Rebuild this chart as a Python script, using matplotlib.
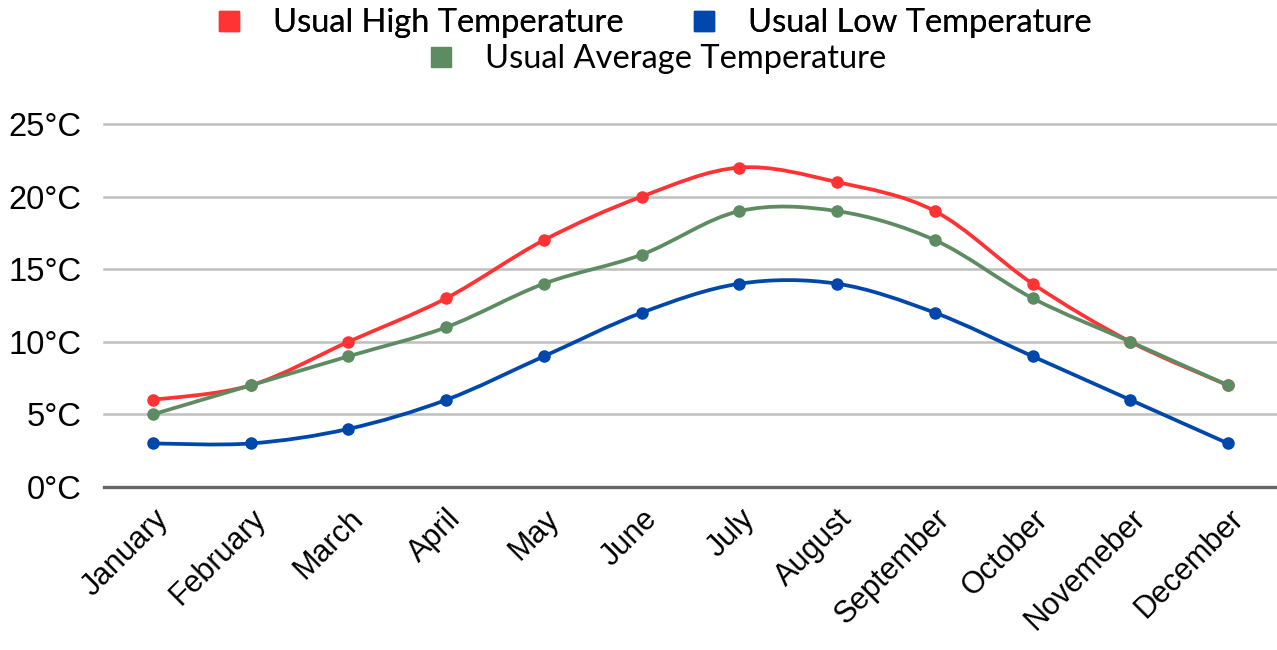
import matplotlib
matplotlib.use("Agg")
import matplotlib.pyplot as plt
from matplotlib.path import Path
from matplotlib.patches import PathPatch
from matplotlib.lines import Line2D
import numpy as np

months = ['January', 'February', 'March', 'April', 'May', 'June', 'July',
          'August', 'September', 'October', 'Novemeber', 'December']
high_temp = [6, 7, 10, 13, 17, 20, 22, 21, 19, 14, 10, 7]
low_temp = [3, 3, 4, 6, 9, 12, 14, 14, 12, 9, 6, 3]
avg_temp = [5, 7, 9, 11, 14, 16, 19, 19, 17, 13, 10, 7]
y_ticks = [0, 5, 10, 15, 20, 25]
y_tick_labels = ['0°C', '5°C', '10°C', '15°C', '20°C', '25°C']

RED = '#ff3333'
BLUE = '#0047ab'
GREEN = '#5e8c62'


def smooth_path(xs, ys):
    # Catmull-Rom style bezier through the data points (like a spreadsheet "smoothed line")
    pts = np.column_stack([xs, ys]).astype(float)
    n = len(pts)
    verts = [pts[0]]
    codes = [Path.MOVETO]
    for i in range(n - 1):
        p0 = pts[i - 1] if i > 0 else pts[i]
        p1 = pts[i]
        p2 = pts[i + 1]
        p3 = pts[i + 2] if i + 2 < n else pts[i + 1]
        c1 = p1 + (p2 - p0) / 6.0
        c2 = p2 - (p3 - p1) / 6.0
        verts += [c1, c2, p2]
        codes += [Path.CURVE4] * 3
    return Path(verts, codes)


fig = plt.figure(figsize=(12.77, 6.5), dpi=100)
ax = fig.add_axes([104 / 1277, 1 - 487 / 650, 1 - 104 / 1277, (487 - 124) / 650])

x = np.arange(len(months))
for vals, col in [(high_temp, RED), (low_temp, BLUE), (avg_temp, GREEN)]:
    ax.add_patch(PathPatch(smooth_path(x, vals), fill=False, edgecolor=col,
                           lw=2.7, capstyle='round', zorder=3))
    ax.plot(x, vals, 'o', color=col, markersize=8, zorder=4)

ax.set_xlim(-0.5, 11.5)
ax.set_ylim(0, 25)
ax.set_yticks(y_ticks)
ax.set_yticklabels(y_tick_labels, fontsize=23.5, family='Liberation Sans')
ax.set_xticks(x)
ax.set_xticklabels(months, rotation=45, ha='right', rotation_mode='anchor',
                   fontsize=22, family='Liberation Sans')
ax.tick_params(axis='both', length=0)
ax.tick_params(axis='y', pad=16)
ax.tick_params(axis='x', pad=12)
for s in ax.spines.values():
    s.set_visible(False)
for t in y_ticks[1:]:
    ax.axhline(t, color='#bfbfbf', lw=1.8, zorder=1, clip_on=False)
ax.axhline(0, color='#666666', lw=2.4, zorder=2, clip_on=False)

def sq(col):
    return Line2D([], [], marker='s', color=col, linestyle='none', markersize=14)

leg1 = fig.legend([sq(RED), sq(BLUE)], ['Usual High Temperature', 'Usual Low Temperature'],
                  loc='center', bbox_to_anchor=(653 / 1277, 1 - 23 / 650), ncol=2,
                  frameon=False, prop={'family': 'Lato', 'size': 23.5},
                  handletextpad=0.9, columnspacing=2.0, handlelength=0.9,
                  borderpad=0, borderaxespad=0)
fig.legend([sq(GREEN)], ['Usual Average Temperature'],
           loc='center', bbox_to_anchor=(656 / 1277, 1 - 59 / 650),
           frameon=False, prop={'family': 'Lato', 'size': 23.5},
           handletextpad=0.9, handlelength=0.9, borderpad=0, borderaxespad=0)
fig.add_artist(leg1)

fig.savefig('out.png', dpi=100)
